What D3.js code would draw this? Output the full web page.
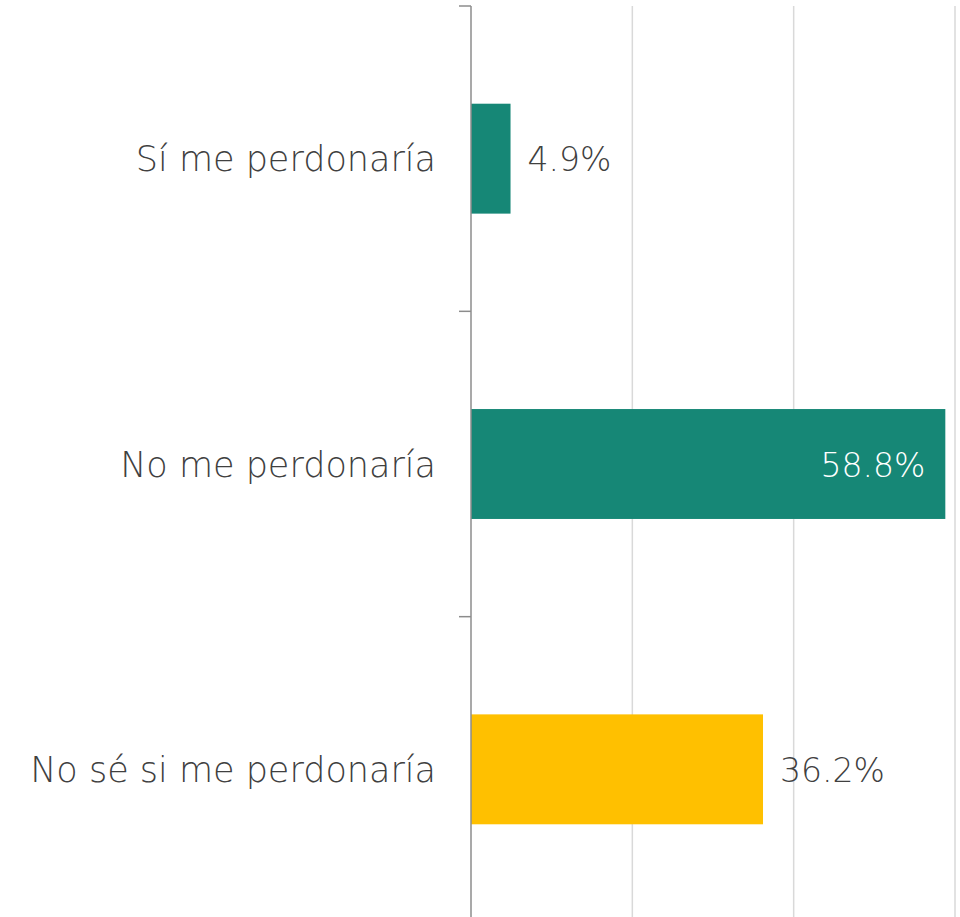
<!DOCTYPE html>
<html>
<head>
<meta charset="utf-8">
<script src="https://cdn.jsdelivr.net/npm/d3@7"></script>
<style>
  html, body { margin: 0; padding: 0; background: #fff; }
  svg { display: block; }
</style>
</head>
<body>
<svg id="chart" width="960" height="917"></svg>
<script>
// Survey answers and their shares (%)
const categories = ["Sí me perdonaría", "No me perdonaría", "No sé si me perdonaría"];
const values = [4.9, 58.8, 36.2];
const barColors = ["#168776", "#168776", "#FFC000"];
const gridTicks = [0, 20, 40, 60];

const svg = d3.select("#chart");
const font = "'Century Gothic', 'URW Gothic', 'DejaVu Sans', sans-serif";
const fontWeight = 200;

const x = d3.scaleLinear().domain([0, 60]).range([471, 955]);
const y = d3.scaleBand().domain(categories).range([6, 922]).paddingInner(0.64).paddingOuter(0.32);

// vertical gridlines
svg.append("g").selectAll("line")
  .data(gridTicks.filter(d => d > 0))
  .join("line")
  .attr("x1", d => x(d)).attr("x2", d => x(d))
  .attr("y1", 6).attr("y2", 917)
  .attr("stroke", "#d9d9d9").attr("stroke-width", 1.5);

// bars
svg.append("g").selectAll("rect")
  .data(values)
  .join("rect")
  .attr("x", x(0))
  .attr("y", (d, i) => y(categories[i]))
  .attr("width", d => x(d) - x(0))
  .attr("height", y.bandwidth())
  .attr("fill", (d, i) => barColors[i]);

// category axis with ticks at band boundaries
const step = y.step();
const boundaries = d3.range(categories.length + 1).map(i => 6 + i * step);
const axis = svg.append("g");
axis.append("line")
  .attr("x1", x(0)).attr("x2", x(0))
  .attr("y1", 6).attr("y2", 922)
  .attr("stroke", "#8c8c8c").attr("stroke-width", 1.5);
axis.selectAll("line.tick")
  .data(boundaries)
  .join("line").attr("class", "tick")
  .attr("x1", x(0) - 12).attr("x2", x(0))
  .attr("y1", d => d).attr("y2", d => d)
  .attr("stroke", "#8c8c8c").attr("stroke-width", 1.5);

// category labels
svg.append("g").selectAll("text")
  .data(categories)
  .join("text")
  .attr("x", 436)
  .attr("y", d => y(d) + y.bandwidth() / 2)
  .attr("dy", "0.36em")
  .attr("text-anchor", "end")
  .attr("font-family", font)
  .attr("font-weight", fontWeight)
  .attr("font-size", 35)
  .attr("fill", "#404040")
  .text(d => d);

// value labels: white inside the longest bar, dark outside the others
const maxV = d3.max(values);
svg.append("g").selectAll("text")
  .data(values)
  .join("text")
  .attr("x", d => d === maxV ? x(d) - 20 : x(d) + 17)
  .attr("y", (d, i) => y(categories[i]) + y.bandwidth() / 2)
  .attr("dy", "0.38em")
  .attr("text-anchor", d => d === maxV ? "end" : "start")
  .attr("font-family", font)
  .attr("font-weight", fontWeight)
  .attr("font-size", 33)
  .attr("fill", d => d === maxV ? "#ffffff" : "#404040")
  .text(d => d.toFixed(1) + "%");
</script>
</body>
</html>
